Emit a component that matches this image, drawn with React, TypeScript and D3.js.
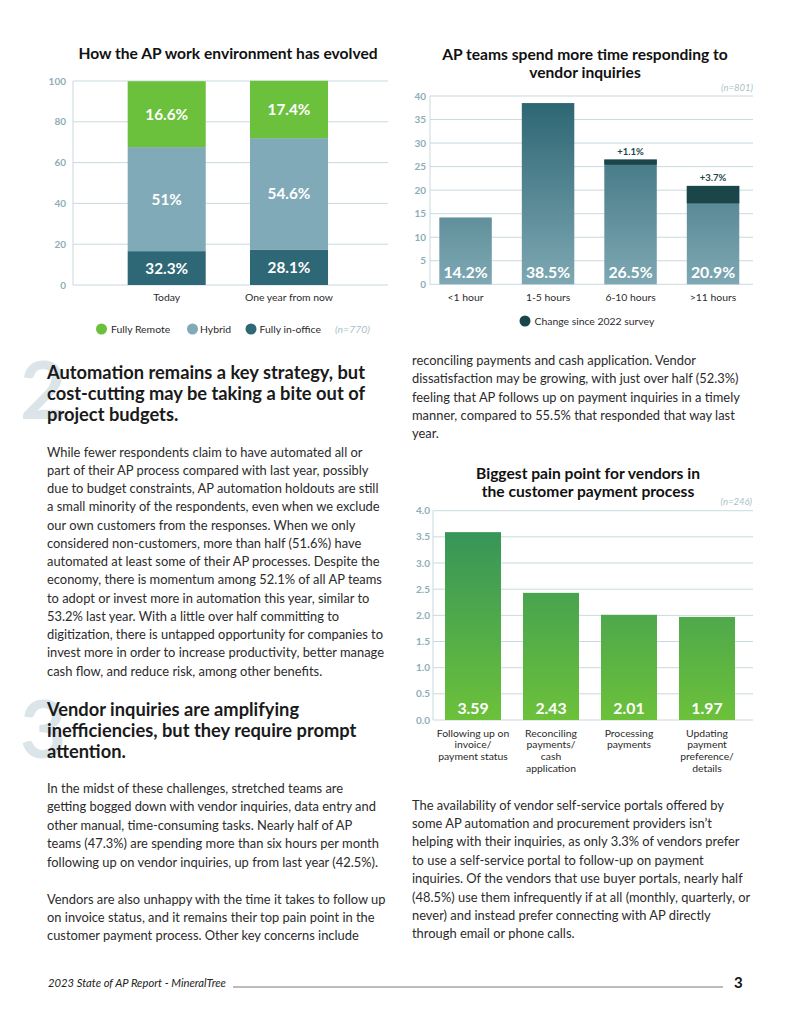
import React from "react";
import * as d3 from "d3";

// ---------- Chart 1 data ----------
const envCategories = ["Today", "One year from now"];
const envInOffice = [16.6, 17.4]; // drawn bottom segment heights
const envHybrid = [51, 54.6];
const envRemote = [32.3, 28.1];
const envInOfficeLabels = ["32.3%", "28.1%"];
const envHybridLabels = ["51%", "54.6%"];
const envRemoteLabels = ["16.6%", "17.4%"];
const envTicks = [0, 20, 40, 60, 80, 100];

// ---------- Chart 2 data ----------
const hoursCategories = ["<1 hour", "1-5 hours", "6-10 hours", ">11 hours"];
const hoursValues = [14.2, 38.5, 26.5, 20.9];
const hoursChange = [0, 0, 1.1, 3.7];
const hoursTicks = [0, 5, 10, 15, 20, 25, 30, 35, 40];

// ---------- Chart 3 data ----------
const painCategories = [
  ["Following up on", "invoice/", "payment status"],
  ["Reconciling", "payments/", "cash", "application"],
  ["Processing", "payments"],
  ["Updating", "payment", "preference/", "details"],
];
const painValues = [3.59, 2.43, 2.01, 1.97];
const painTicks = [0, 0.5, 1, 1.5, 2, 2.5, 3, 3.5, 4];

// ---------- Text ----------
const heading2 = [
  "Automation remains a key strategy, but",
  "cost-cutting may be taking a bite out of",
  "project budgets.",
];
const body2 = [
  "While fewer respondents claim to have automated all or",
  "part of their AP process compared with last year, possibly",
  "due to budget constraints, AP automation holdouts are still",
  "a small minority of the respondents, even when we exclude",
  "our own customers from the responses. When we only",
  "considered non-customers, more than half (51.6%) have",
  "automated at least some of their AP processes. Despite the",
  "economy, there is momentum among 52.1% of all AP teams",
  "to adopt or invest more in automation this year, similar to",
  "53.2% last year.  With a little over half committing to",
  "digitization, there is untapped opportunity for companies to",
  "invest more in order to increase productivity, better manage",
  "cash flow, and reduce risk, among other benefits.",
];
const heading3 = [
  "Vendor inquiries are amplifying",
  "inefficiencies, but they require prompt",
  "attention.",
];
const body3a = [
  "In the midst of these challenges, stretched teams are",
  "getting bogged down with vendor inquiries, data entry and",
  "other manual, time-consuming tasks. Nearly half of AP",
  "teams (47.3%) are spending more than six hours per month",
  "following up on vendor inquiries, up from last year (42.5%).",
];
const body3b = [
  "Vendors are also unhappy with the time it takes to follow up",
  "on invoice status, and it remains their top pain point in the",
  "customer payment process. Other key concerns include",
];
const rightTop = [
  "reconciling payments and cash application. Vendor",
  "dissatisfaction may be growing, with just over half (52.3%)",
  "feeling that AP follows up on payment inquiries in a timely",
  "manner, compared to 55.5% that responded that way last",
  "year.",
];
const rightBottom = [
  "The availability of vendor self-service portals offered by",
  "some AP automation and procurement providers isn\u2019t",
  "helping with their inquiries, as only 3.3% of vendors prefer",
  "to use a self-service portal to follow-up on payment",
  "inquiries. Of the vendors that use buyer portals, nearly half",
  "(48.5%) use them infrequently if at all (monthly, quarterly, or",
  "never) and instead prefer connecting with AP directly",
  "through email or phone calls.",
];

const FONT = "Lato, 'Open Sans', sans-serif";
const TICK_COLOR = "#8eadb8";
const GRID_COLOR = "#c9d9df";
const TEXT_COLOR = "#2b2b2b";

const GREEN = "#6cc13c";
const HYBRID = "#80aab7";
const DARK = "#2e6876";
const CHANGE = "#1b4649";

const BODY = 12.9;
const HEAD = 18.3;
const TITLE = 15.6;
const SMALL = 10.4;

function Lines({ lines, x, y, lh, size, weight = 400, color = TEXT_COLOR, anchor = "start" }: any) {
  return (
    <text x={x} y={y} fontFamily={FONT} fontSize={size} fontWeight={weight} fill={color} textAnchor={anchor}>
      {lines.map((l: string, i: number) => (
        <tspan key={i} x={x} y={y + i * lh}>
          {l}
        </tspan>
      ))}
    </text>
  );
}

function YAxis({ y, ticks, x0, x1, labelX, fmt }: any) {
  return (
    <g>
      {ticks.map((t: number) => (
        <g key={t}>
          <line x1={x0} x2={x1} y1={y(t)} y2={y(t)} stroke={GRID_COLOR} strokeWidth={1} />
          <text x={labelX} y={y(t) + 3.5} textAnchor="end" fontFamily={FONT} fontSize={10} fontWeight={700} fill={TICK_COLOR}>
            {fmt(t)}
          </text>
        </g>
      ))}
      <line x1={x0} x2={x0} y1={y(ticks[ticks.length - 1])} y2={y(0)} stroke={GRID_COLOR} strokeWidth={1} />
    </g>
  );
}

function Chart1() {
  const y = d3.scaleLinear().domain([0, 100]).range([285, 81]);
  const x = d3.scaleBand().domain(envCategories).range([73, 382.7]).paddingInner(0.362).paddingOuter(0.447);
  const bw = x.bandwidth();
  const legend = [
    { label: "Fully Remote", color: GREEN, cx: 101.5, tx: 111 },
    { label: "Hybrid", color: HYBRID, cx: 192.5, tx: 200 },
    { label: "Fully in-office", color: DARK, cx: 251, tx: 259.5 },
  ];
  return (
    <g>
      <text x={228} y={59} textAnchor="middle" fontFamily={FONT} fontSize={TITLE} fontWeight={700} fill="#111">
        How the AP work environment has evolved
      </text>
      <YAxis y={y} ticks={envTicks} x0={73} x1={388} labelX={66} fmt={(t: number) => String(t)} />
      {envCategories.map((c, i) => {
        const x0 = x(c)!;
        const b = envInOffice[i];
        const h = envHybrid[i];
        const r = envRemote[i];
        const cx = x0 + bw / 2;
        return (
          <g key={c}>
            <rect x={x0} width={bw} y={y(b)} height={y(0) - y(b)} fill={DARK} />
            <rect x={x0} width={bw} y={y(b + h)} height={y(b) - y(b + h)} fill={HYBRID} />
            <rect x={x0} width={bw} y={y(b + h + r)} height={y(b + h) - y(b + h + r)} fill={GREEN} />
            {[
              [envInOfficeLabels[i], (y(0) + y(b)) / 2],
              [envHybridLabels[i], (y(b) + y(b + h)) / 2],
              [envRemoteLabels[i], (y(b + h) + y(b + h + r)) / 2],
            ].map(([t, yy]: any, k) => (
              <text key={k} x={cx} y={yy + 5.5} textAnchor="middle" fontFamily={FONT} fontSize={15.3} fontWeight={700} fill="#fff">
                {t}
              </text>
            ))}
            <text x={cx} y={301} textAnchor="middle" fontFamily={FONT} fontSize={SMALL} fill={TEXT_COLOR}>
              {c}
            </text>
          </g>
        );
      })}
      {legend.map((l) => (
        <g key={l.label}>
          <circle cx={l.cx} cy={329} r={5.5} fill={l.color} />
          <text x={l.tx} y={332.5} fontFamily={FONT} fontSize={SMALL} fill={TEXT_COLOR}>
            {l.label}
          </text>
        </g>
      ))}
      <text x={335} y={332.5} fontFamily={FONT} fontSize={SMALL} fontStyle="italic" fill="#a9bfc7">
        (n=770)
      </text>
    </g>
  );
}

function Chart2() {
  const y = d3.scaleLinear().domain([0, 40]).range([284.3, 96]);
  const x = d3.scaleBand().domain(hoursCategories).range([430, 748.6]).paddingInner(0.364).paddingOuter(0.113);
  const bw = x.bandwidth();
  return (
    <g>
      <defs>
        <linearGradient id="tealGrad" gradientUnits="userSpaceOnUse" x1={0} x2={0} y1={y(40)} y2={y(0)}>
          <stop offset="0%" stopColor="#2a6471" />
          <stop offset="100%" stopColor="#7ea8b3" />
        </linearGradient>
      </defs>
      <Lines lines={["AP teams spend more time responding to", "vendor inquiries"]} x={585} y={60} lh={17.5} size={TITLE} weight={700} color="#111" anchor="middle" />
      <text x={753} y={91} textAnchor="end" fontFamily={FONT} fontSize={9.5} fontStyle="italic" fill="#a9bfc7">
        (n=801)
      </text>
      <YAxis y={y} ticks={hoursTicks} x0={430} x1={753} labelX={426} fmt={(t: number) => String(t)} />
      {hoursCategories.map((c, i) => {
        const x0 = x(c)!;
        const v = hoursValues[i];
        const ch = hoursChange[i];
        const cx = x0 + bw / 2;
        return (
          <g key={c}>
            <rect x={x0} width={bw} y={y(v)} height={y(0) - y(v)} fill="url(#tealGrad)" />
            {ch > 0 && (
              <>
                <rect x={x0} width={bw} y={y(v)} height={y(v - ch) - y(v)} fill={CHANGE} />
                <text x={cx} y={y(v) - 4.5} textAnchor="middle" fontFamily={FONT} fontSize={9.5} fontWeight={700} fill={CHANGE}>
                  +{ch}%
                </text>
              </>
            )}
            <text x={cx} y={278} textAnchor="middle" fontFamily={FONT} fontSize={15.8} fontWeight={700} fill="#fff">
              {v}%
            </text>
            <text x={cx} y={301} textAnchor="middle" fontFamily={FONT} fontSize={SMALL} fill={TEXT_COLOR}>
              {c}
            </text>
          </g>
        );
      })}
      <circle cx={525} cy={321} r={5.5} fill={CHANGE} />
      <text x={534.5} y={324.5} fontFamily={FONT} fontSize={SMALL} fill={TEXT_COLOR}>
        Change since 2022 survey
      </text>
    </g>
  );
}

function Chart3() {
  const y = d3.scaleLinear().domain([0, 4]).range([720, 510.7]);
  const keys = painCategories.map((_, i) => String(i));
  const x = d3.scaleBand().domain(keys).range([433, 747]).paddingInner(0.282).paddingOuter(0.154);
  const bw = x.bandwidth();
  const fmt = d3.format(".1f");
  return (
    <g>
      <defs>
        <linearGradient id="greenGrad" gradientUnits="userSpaceOnUse" x1={0} x2={0} y1={y(3.6)} y2={y(0)}>
          <stop offset="0%" stopColor="#369559" />
          <stop offset="100%" stopColor="#6cc13a" />
        </linearGradient>
      </defs>
      <Lines lines={["Biggest pain point for vendors in", "the customer payment process"]} x={588} y={479} lh={17.5} size={TITLE} weight={700} color="#111" anchor="middle" />
      <text x={752} y={505} textAnchor="end" fontFamily={FONT} fontSize={9.5} fontStyle="italic" fill="#a9bfc7">
        (n=246)
      </text>
      <YAxis y={y} ticks={painTicks} x0={433} x1={753} labelX={430} fmt={(t: number) => fmt(t)} />
      {keys.map((k, i) => {
        const x0 = x(k)!;
        const v = painValues[i];
        const cx = x0 + bw / 2;
        return (
          <g key={k}>
            <rect x={x0} width={bw} y={y(v)} height={y(0) - y(v)} fill="url(#greenGrad)" />
            <text x={cx} y={714} textAnchor="middle" fontFamily={FONT} fontSize={15.8} fontWeight={700} fill="#fff">
              {v.toFixed(2)}
            </text>
            <Lines lines={painCategories[i]} x={cx} y={736.5} lh={11.8} size={SMALL} anchor="middle" />
          </g>
        );
      })}
    </g>
  );
}

export default function App() {
  return (
    <svg width={800} height={1035} style={{ position: "absolute", left: 0, top: 0, background: "#fff" }}>
      <rect width={800} height={1035} fill="#fff" />
      <Chart1 />
      <Chart2 />
      <Chart3 />

      {/* big numerals */}
      <text x={20} y={419} fontFamily={FONT} fontSize={80} fontWeight={700} fill="#dbe4e8">2</text>
      <text x={20} y={758} fontFamily={FONT} fontSize={80} fontWeight={700} fill="#dbe4e8">3</text>

      <Lines lines={heading2} x={47} y={378.5} lh={21} size={HEAD} weight={700} color="#1a1a1a" />
      <Lines lines={body2} x={47} y={456.5} lh={18.25} size={BODY} />
      <Lines lines={heading3} x={47} y={715.5} lh={21} size={HEAD} weight={700} color="#1a1a1a" />
      <Lines lines={body3a} x={47} y={793} lh={18.4} size={BODY} />
      <Lines lines={body3b} x={47} y={903.5} lh={18.4} size={BODY} />
      <Lines lines={rightTop} x={412} y={365} lh={18.3} size={BODY} />
      <Lines lines={rightBottom} x={412} y={809.5} lh={18.4} size={BODY} />

      {/* footer */}
      <text x={48} y={987} fontFamily={FONT} fontSize={11} fontStyle="italic" fill="#222" textLength={178} lengthAdjust="spacingAndGlyphs">
        2023 State of AP Report - MineralTree
      </text>
      <line x1={233} x2={723} y1={987} y2={987} stroke="#555" strokeWidth={0.8} />
      <text x={734} y={988} fontFamily={FONT} fontSize={15} fontWeight={700} fill="#111">3</text>
    </svg>
  );
}
